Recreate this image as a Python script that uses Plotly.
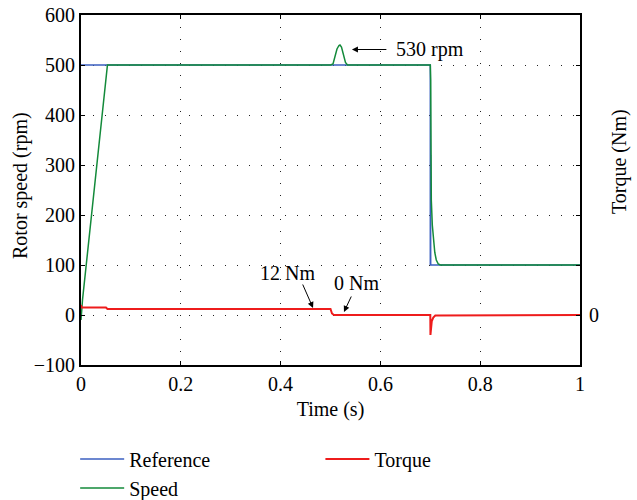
import plotly.graph_objects as go

# ---- data ----
t_ref = [0, 0.7, 0.7, 0.7004, 0.7008, 1.0]
ref = [500, 500, 100, 320, 100, 100]

t_speed = [0, 0.003, 0.053, 0.5, 0.505, 0.509, 0.513, 0.517, 0.519, 0.522, 0.526,
           0.530, 0.534, 0.7, 0.7008, 0.701, 0.702, 0.704, 0.706, 0.709, 0.712,
           0.716, 0.72, 1.0]
speed = [-10, 30, 500, 500, 502, 515, 532, 539, 540, 536, 520,
         505, 500, 500, 470, 320, 230, 180, 150, 125, 110,
         102, 100, 100]

t_torque = [0, 0.001, 0.05, 0.053, 0.5, 0.503, 0.507, 0.7, 0.7003, 0.701,
            0.703, 0.706, 0.71, 1.0]
torque = [20, 15, 15, 12, 12, 3, 0, 0, -40, -25, -12, -5, -1, 0]

x_ticks = [0, 0.2, 0.4, 0.6, 0.8, 1]
x_labels = ["0", "0.2", "0.4", "0.6", "0.8", "1"]
y_ticks = [-100, 0, 100, 200, 300, 400, 500, 600]

FONT = "Liberation Serif"
FS = 20

# plot-area geometry (pixels)
L, R, T, B = 81, 580, 15, 365
PW, PH = R - L, B - T

fig = go.Figure()
fig.add_trace(go.Scatter(x=t_ref, y=ref, mode="lines", name="Reference",
                         line=dict(color="#3b5fc0", width=1.5), legend="legend"))
fig.add_trace(go.Scatter(x=t_speed, y=speed, mode="lines", name="Speed",
                         line=dict(color="#138a3a", width=1.5), legend="legend"))
fig.add_trace(go.Scatter(x=t_torque, y=torque, mode="lines", name="Torque",
                         line=dict(color="#ee1c1c", width=2), legend="legend2",
                         yaxis="y2"))

axis_common = dict(showline=True, linecolor="black", linewidth=2, ticks="inside",
                   ticklen=4, tickcolor="black", zeroline=False,
                   tickfont=dict(family=FONT, size=FS, color="black"))

legend_common = dict(orientation="v", xref="container", xanchor="left",
                     yref="container", yanchor="top", tracegroupgap=0,
                     font=dict(family=FONT, size=FS), itemwidth=44,
                     bgcolor="rgba(0,0,0,0)")

fig.update_layout(
    width=637, height=500,
    margin=dict(l=L, r=637 - R, t=T, b=500 - B, autoexpand=False),
    paper_bgcolor="white", plot_bgcolor="white",
    font=dict(family=FONT, size=FS, color="black"),
    xaxis=dict(range=[0, 1], tickvals=x_ticks, ticktext=x_labels, mirror="ticks",
               showgrid=True, gridcolor="#222", griddash="1px,11px", gridwidth=1,
               title=dict(text="Time (s)", font=dict(family=FONT, size=FS), standoff=8),
               **axis_common),
    yaxis=dict(range=[-100, 600], tickvals=y_ticks, mirror="ticks",
               showgrid=True, gridcolor="#222", griddash="1px,11px", gridwidth=1,
               **axis_common),
    yaxis2=dict(range=[-100, 600], overlaying="y", side="right", tickvals=[0],
                showgrid=False, zeroline=False, showline=False, ticks="outside",
                ticklen=4, tickcolor="rgba(0,0,0,0)",
                tickfont=dict(family=FONT, size=FS, color="black")),
    legend=dict(x=0.118, y=0.121, **legend_common),
    legend2=dict(x=0.503, y=0.121, **legend_common),
    showlegend=True,
)

# axis titles as rotated annotations
fig.add_annotation(x=(20 - L) / PW, y=(B - 186) / PH, xref="paper", yref="paper",
                   xanchor="center", yanchor="middle", text="Rotor speed (rpm)",
                   textangle=-90, showarrow=False, font=dict(family=FONT, size=FS))
fig.add_annotation(x=(619 - L) / PW, y=(B - 162) / PH, xref="paper", yref="paper",
                   xanchor="center", yanchor="middle", text="Torque (Nm)",
                   textangle=-90, showarrow=False, font=dict(family=FONT, size=FS))

# annotations
fig.add_annotation(x=0.543, y=531, ax=0.615, ay=531, axref="x", ayref="y",
                   xref="x", yref="y", text="", showarrow=True, arrowhead=2,
                   arrowsize=1.2, arrowwidth=1, arrowcolor="black")
fig.add_annotation(x=0.627, y=531, xref="x", yref="y", text="530 rpm",
                   showarrow=False, xanchor="left", font=dict(family=FONT, size=FS))
fig.add_annotation(x=0.465, y=14, ax=0.443, ay=64, axref="x", ayref="y",
                   xref="x", yref="y", text="", showarrow=True, arrowhead=2,
                   arrowsize=1.2, arrowwidth=1, arrowcolor="black")
fig.add_annotation(x=0.413, y=84, xref="x", yref="y", text="12 Nm",
                   showarrow=False, font=dict(family=FONT, size=FS))
fig.add_annotation(x=0.527, y=6, ax=0.543, ay=40, axref="x", ayref="y",
                   xref="x", yref="y", text="", showarrow=True, arrowhead=2,
                   arrowsize=1.2, arrowwidth=1, arrowcolor="black")
fig.add_annotation(x=0.553, y=64, xref="x", yref="y", text="0 Nm",
                   showarrow=False, font=dict(family=FONT, size=FS))

fig.write_html("out.html")
